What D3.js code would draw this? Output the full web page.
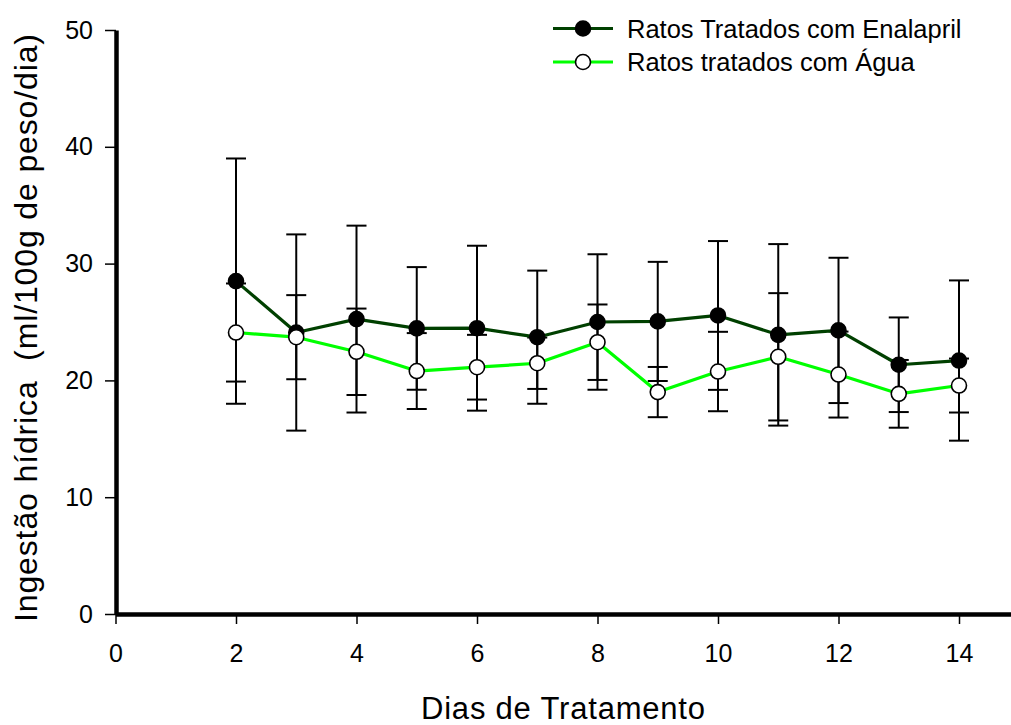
<!DOCTYPE html>
<html>
<head>
<meta charset="utf-8">
<script src="https://cdn.jsdelivr.net/npm/d3@7"></script>
<style>
  html, body { margin: 0; padding: 0; background: #fff; }
  svg { display: block; font-family: "Liberation Sans", Arial, Helvetica, sans-serif; }
</style>
</head>
<body>
<svg id="chart" width="1011" height="725"></svg>
<script>
// ---- data ----
const days = [2, 3, 4, 5, 6, 7, 8, 9, 10, 11, 12, 13, 14];
const enalapril    = [28.5, 24.1, 25.25, 24.45, 24.47, 23.7, 25.0, 25.05, 25.56, 23.9, 24.28, 21.34, 21.7];
const enalaprilErr = [10.5, 8.4, 8.0, 5.25, 7.06, 5.7, 5.8, 5.1, 6.37, 7.77, 6.22, 4.05, 6.86];
const agua         = [24.1, 23.7, 22.45, 20.8, 21.13, 21.47, 23.27, 19.0, 20.76, 22.02, 20.5, 18.85, 19.56];
const aguaErr      = [4.2, 3.6, 3.7, 3.25, 2.77, 2.2, 3.23, 2.15, 3.4, 5.45, 3.68, 2.9, 2.31];
const xTicks = [0, 2, 4, 6, 8, 10, 12, 14];
const yTicks = [0, 10, 20, 30, 40, 50];
const seriesNames = ["Ratos Tratados com Enalapril", "Ratos tratados com Água"];
const xTitle = "Dias de Tratamento";
const yTitle = "Ingestão hídrica  (ml/100g de peso/dia)";

// ---- layout ----
const svg = d3.select("#chart");
const x = d3.scaleLinear().domain([0, 15]).range([115.5, 115.5 + 15 * 60.25]);
const y = d3.scaleLinear().domain([0, 50]).range([614, 30]);

const darkGreen = "#004000";
const lightGreen = "#00ff00";

const series = [
  { name: seriesNames[0], vals: enalapril, err: enalaprilErr, color: darkGreen, fill: "#000" },
  { name: seriesNames[1], vals: agua, err: aguaErr, color: lightGreen, fill: "#fff" }
];
series.forEach(s => {
  s.data = days.map((d, i) => ({ x: d, v: s.vals[i], e: s.err[i] }));
});

// ---- axes ----
const yAxis = d3.axisLeft(y).tickValues(yTicks).tickSize(11).tickSizeOuter(0).tickPadding(12);
const gy = svg.append("g").attr("transform", `translate(${x(0) + 0.5},0)`).call(yAxis);
gy.attr("font-size", null).attr("font-family", null);
gy.select(".domain").attr("stroke", "#000").attr("stroke-width", 4.5);
gy.selectAll(".tick line").attr("stroke", "#000").attr("stroke-width", 1.5);
gy.selectAll(".tick text").style("font-size", "25px").attr("fill", "#000");

const xAxis = d3.axisBottom(x).tickValues(xTicks).tickSize(10).tickSizeOuter(0).tickPadding(20);
const gx = svg.append("g").attr("transform", `translate(0,${y(0)})`).call(xAxis);
gx.attr("font-size", null).attr("font-family", null);
gx.select(".domain").attr("stroke", "#000").attr("stroke-width", 4.5);
gx.selectAll(".tick line").attr("stroke", "#000").attr("stroke-width", 1.5);
gx.selectAll(".tick text").style("font-size", "25px").attr("fill", "#000");

// ---- error bars ----
const capW = 10;
series.forEach(s => {
  const g = svg.append("g").attr("stroke", "#000").attr("stroke-width", 2).attr("fill", "none");
  s.data.forEach(d => {
    g.append("line").attr("x1", x(d.x)).attr("x2", x(d.x)).attr("y1", y(d.v - d.e)).attr("y2", y(d.v + d.e));
    g.append("line").attr("x1", x(d.x) - capW).attr("x2", x(d.x) + capW).attr("y1", y(d.v + d.e)).attr("y2", y(d.v + d.e));
    g.append("line").attr("x1", x(d.x) - capW).attr("x2", x(d.x) + capW).attr("y1", y(d.v - d.e)).attr("y2", y(d.v - d.e));
  });
});

// ---- lines ----
const line = d3.line().x(d => x(d.x)).y(d => y(d.v));
series.forEach(s => {
  svg.append("path").datum(s.data).attr("d", line)
    .attr("fill", "none").attr("stroke", s.color).attr("stroke-width", 3.2).attr("stroke-linejoin", "round");
});

// ---- markers ----
series.forEach(s => {
  svg.append("g").selectAll("circle").data(s.data).join("circle")
    .attr("cx", d => x(d.x)).attr("cy", d => y(d.v)).attr("r", 7.5)
    .attr("fill", s.fill).attr("stroke", "#000").attr("stroke-width", 1.6);
});

// ---- legend ----
const lg = svg.append("g");
series.forEach((s, i) => {
  const ly = 28.5 + i * 33.5;
  lg.append("line").attr("x1", 553).attr("x2", 613).attr("y1", ly).attr("y2", ly)
    .attr("stroke", s.color).attr("stroke-width", 3.2);
  lg.append("circle").attr("cx", 583).attr("cy", ly).attr("r", 7.5)
    .attr("fill", s.fill).attr("stroke", "#000").attr("stroke-width", 1.6);
  lg.append("text").attr("x", 627).attr("y", ly + 9).attr("font-size", 25.5).attr("fill", "#000").text(s.name);
});

// ---- titles ----
svg.append("text").attr("x", 563).attr("y", 719).attr("text-anchor", "middle")
  .attr("font-size", 31).attr("textLength", 284).attr("lengthAdjust", "spacing")
  .attr("fill", "#000").text(xTitle);
svg.append("text").attr("transform", "translate(37,328) rotate(-90)").attr("text-anchor", "middle")
  .attr("font-size", 32).attr("textLength", 588).attr("lengthAdjust", "spacing")
  .style("white-space", "pre").attr("fill", "#000").text(yTitle);
</script>
</body>
</html>
